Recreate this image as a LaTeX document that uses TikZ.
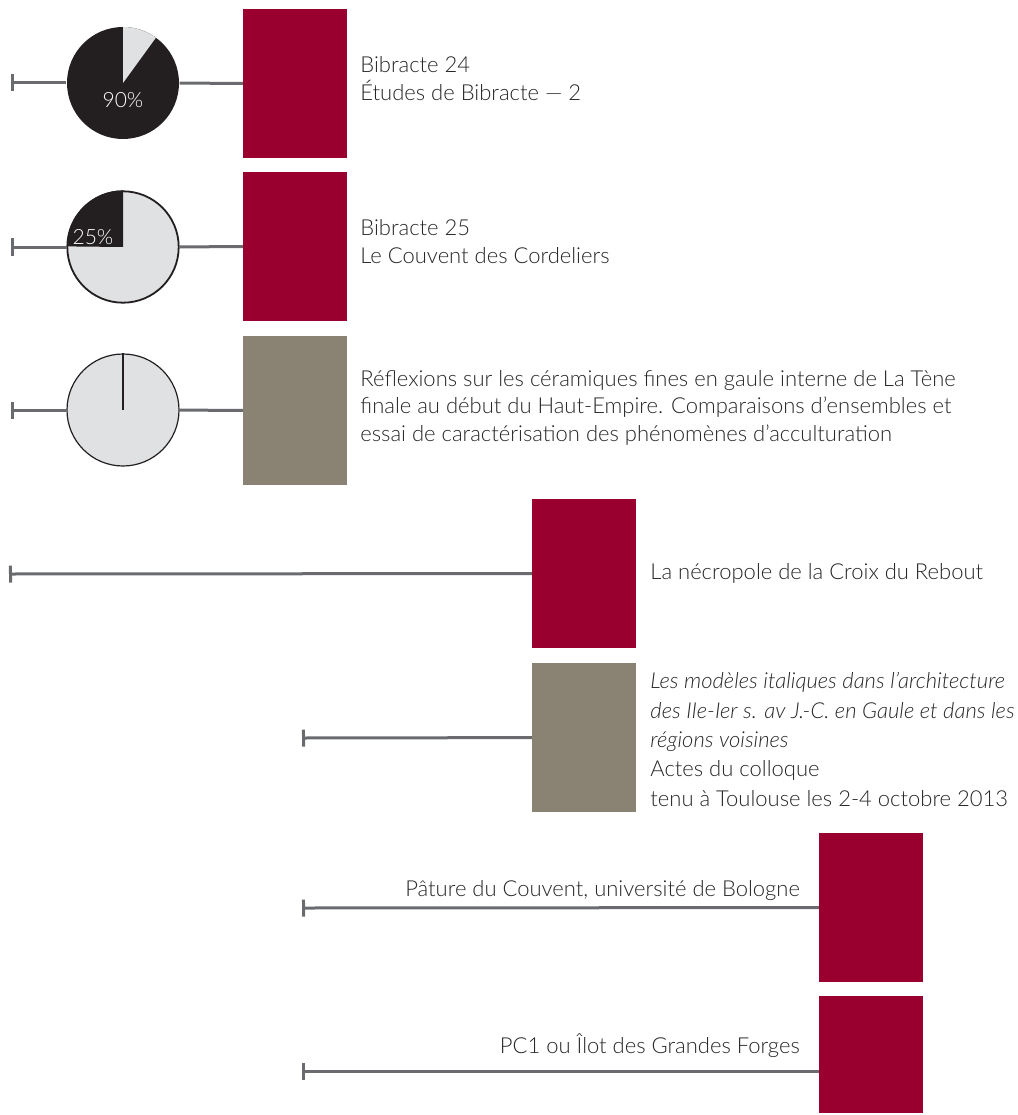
\documentclass[tikz,border=0pt]{standalone}
\usepackage{fontspec}
\setmainfont{Lato}[UprightFont=*-Light, ItalicFont=*-LightItalic]
\usepackage{xcolor}
\usepackage{tikz}
\usetikzlibrary{arrows.meta}
\usetikzlibrary{positioning}

\definecolor{crimson}{HTML}{990030}
\definecolor{taupe}{HTML}{8A8272}
\definecolor{linkgray}{HTML}{6A6B6E}
\definecolor{piedark}{HTML}{231F20}
\definecolor{pielight}{HTML}{E0E1E3}

\tikzset{
  book/.style={rectangle, minimum width=104pt, minimum height=149pt, inner sep=0pt},
  pie/.style={circle, minimum size=112pt, inner sep=0pt, draw=piedark, line width=1.2pt},
  link/.style={draw=linkgray, line width=3pt},
  start/.style={{Bar[width=17pt,line width=3pt]}-},
  caption/.style={align=left, font=\fontsize{22}{28}\selectfont, text=black!85, inner sep=0pt}
}

\begin{document}
\begin{tikzpicture}[x=1pt, y=-1pt]
      \useasboundingbox (0,0) rectangle (1017,1115);
      % ligne 1
      \node (b24) [book, fill=crimson] at (295,83.5) {};
      \node (pie1) [pie, fill=piedark, draw=none] at (123,83) {};
      \fill [pielight] (pie1.center) -- ++(-54:56) arc[start angle=-54, end angle=-90, radius=56] -- cycle;
      \node (pct1) [text=white, font=\fontsize{21}{24}\selectfont] at (123,100) {90\%};
      \coordinate (t1) at (11,83);
      \draw [link, start] (t1) -- (pie1);
      \draw [link] (pie1) -- (b24);
      \node (txt1) [caption, anchor=west, right=13pt of b24.east, yshift=5pt] {Bibracte 24\\Études de Bibracte — 2};
      % ligne 2
      \node (b25) [book, fill=crimson] at (295,246.5) {};
      \node (pie2) [pie, fill=pielight] at (123,247) {};
      \fill [piedark] (pie2.center) -- (pie2.north) arc[start angle=-90, end angle=-180, radius=56] -- cycle;
      \draw [piedark, line width=1.2pt] (pie2) circle[radius=55.4];
      \node (pct2) [text=white, font=\fontsize{21}{24}\selectfont] at (93,237) {25\%};
      \coordinate (t2) at (11,247);
      \draw [link, start] (t2) -- (pie2);
      \draw [link] (pie2) -- (b25);
      \node (txt2) [caption, right=13pt of b25.east, yshift=5pt] {Bibracte 25\\Le Couvent des Cordeliers};
      % ligne 3
      \node (cer) [book, fill=taupe] at (295,410.5) {};
      \node (pie3) [pie, fill=pielight] at (123,410) {};
      \draw [piedark, line width=1.2pt] (pie3.north) -- (pie3.center);
      \coordinate (t3) at (11,410);
      \draw [link, start] (t3) -- (pie3);
      \draw [link] (pie3) -- (cer);
      \node (txt3) [caption, right=13pt of cer.east, yshift=3pt, font=\fontsize{22}{27.5}\selectfont]
        {Réflexions sur les céramiques fines en gaule interne de La~Tène\\finale au début du Haut-Empire. Comparaisons d’ensembles et\\essai de caractérisation des phénomènes d’acculturation};
      % ligne 4
      \node (croix) [book, fill=crimson] at (584,573.5) {};
      \coordinate (t4) at (9,574);
      \draw [link, start] (t4) -- (croix);
      \node (txt4) [caption, right=14pt of croix.east] {La nécropole de la Croix du Rebout};
      % ligne 5
      \node (ital) [book, fill=taupe] at (584,737.5) {};
      \coordinate (t5) at (302,738);
      \draw [link, start] (t5) -- (ital);
      \node (txt5) [caption, right=14pt of ital.east, yshift=-2pt, font=\fontsize{22}{29.3}\selectfont]
        {\textit{Les modèles italiques dans l’architecture}\\\textit{des IIe-Ier s. av J.-C. en Gaule et dans les}\\\textit{régions voisines}\\Actes du colloque\\tenu à~Toulouse les 2-4 octobre 2013};
      % ligne 6
      \node (bol) [book, fill=crimson] at (871,907.5) {};
      \coordinate (t6) at (302,908);
      \draw [link, start] (t6) -- (bol);
      \node (txt6) [caption, anchor=base east] at (800,896) {Pâture du Couvent, université de Bologne};
      % ligne 7
      \node (pc1) [book, fill=crimson, minimum height=117pt, anchor=north] at (871,996) {};
      \coordinate (t7) at (302,1071);
      \draw [link, start] (t7) -- (t7 -| pc1.west);
      \node (txt7) [caption, anchor=base east] at (800,1053) {PC1 ou Îlot des Grandes Forges};
\end{tikzpicture}
\end{document}
